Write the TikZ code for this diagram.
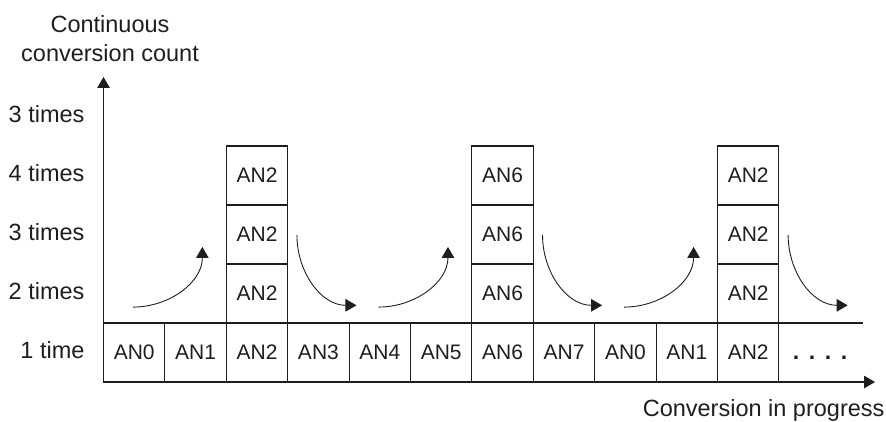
\documentclass[tikz,border=0pt]{standalone}
\usepackage{fontspec}
\setmainfont{Liberation Sans}
\usetikzlibrary{arrows.meta}
\definecolor{inkgray}{RGB}{30,30,30}
\newcommand{\drawarrow}{\draw[-{Triangle[length=11pt,width=12.5pt]}]}
\tikzset{
    cell/.style={draw, minimum width=61.4pt, minimum height=59pt, inner sep=0pt, outer sep=0pt, font=\fontsize{21}{25}\selectfont},
    countlabel/.style={anchor=base east, inner sep=0pt, font=\fontsize{23.5}{29}\selectfont},
    axislabel/.style={anchor=base, inner sep=0pt, font=\fontsize{23.5}{29}\selectfont},
}

\begin{document}
\begin{tikzpicture}[x=61.4pt, y=59pt, line width=1.1pt, color=inkgray]
    \useasboundingbox (-1.686,-0.661) rectangle (12.744,6.475);

    % Draw bottom row
    \foreach \lab [count=\i from 0] in {AN0,AN1,AN2,AN3,AN4,AN5,AN6,AN7,AN0,AN1,AN2} {
        \node[cell] (c\i) at (\i+0.5, 0.5) {\lab};
    }

    % Draw stacks
    \foreach \s/\lab in {2/AN2, 6/AN6, 10/AN2} {
        \foreach \r in {1,2,3} {
            \node[cell] (s\s-\r) at (\s+0.5, \r+0.5) {\lab};
        }
    }

    % Draw axes
    \coordinate (xend) at (12.565, 0);
    \coordinate (yend) at (0, 5.17);
    \coordinate (lineend) at (12.37, 1);
    \drawarrow (c0.south west) -- (xend);
    \drawarrow (c0.south west) -- (yend);
    \draw (c0.north west) -- (lineend);

    % Draw curved arrows
    \foreach \s in {2,6,10} {
        \coordinate (up\s-a) at (\s-1.52, 1.27);
        \coordinate (up\s-b) at (\s-0.39, 2.29);
        \coordinate (dn\s-a) at (\s+1.15, 2.49);
        \coordinate (dn\s-b) at (\s+2.12, 1.30);
        \drawarrow[line width=0.9pt] (up\s-a) to[out=0, in=-90] (up\s-b);
        \drawarrow[line width=0.9pt] (dn\s-a) to[out=-90, in=180] (dn\s-b);
    }

    % Count labels
    \foreach \y/\lab in {0/1 time, 1/2 times, 2/3 times, 3/4 times, 4/3 times} {
        \node[countlabel] (cnt\y) at (-0.301, \y+0.407) {\lab};
    }

    \node[axislabel] (title1) at (0.106, 5.927) {Continuous};
    \node[axislabel] (title2) at (0.106, 5.429) {conversion count};
    \node[axislabel, anchor=base east] (xlabel) at (12.728, -0.588) {Conversion in progress};
    \node[anchor=base, inner sep=0pt, font=\fontsize{23}{25}\selectfont\bfseries] (dots) at (11.67, 0.39)
        {.\hskip 9.6pt.\hskip 9.6pt.\hskip 9.6pt.};
\end{tikzpicture}
\end{document}
